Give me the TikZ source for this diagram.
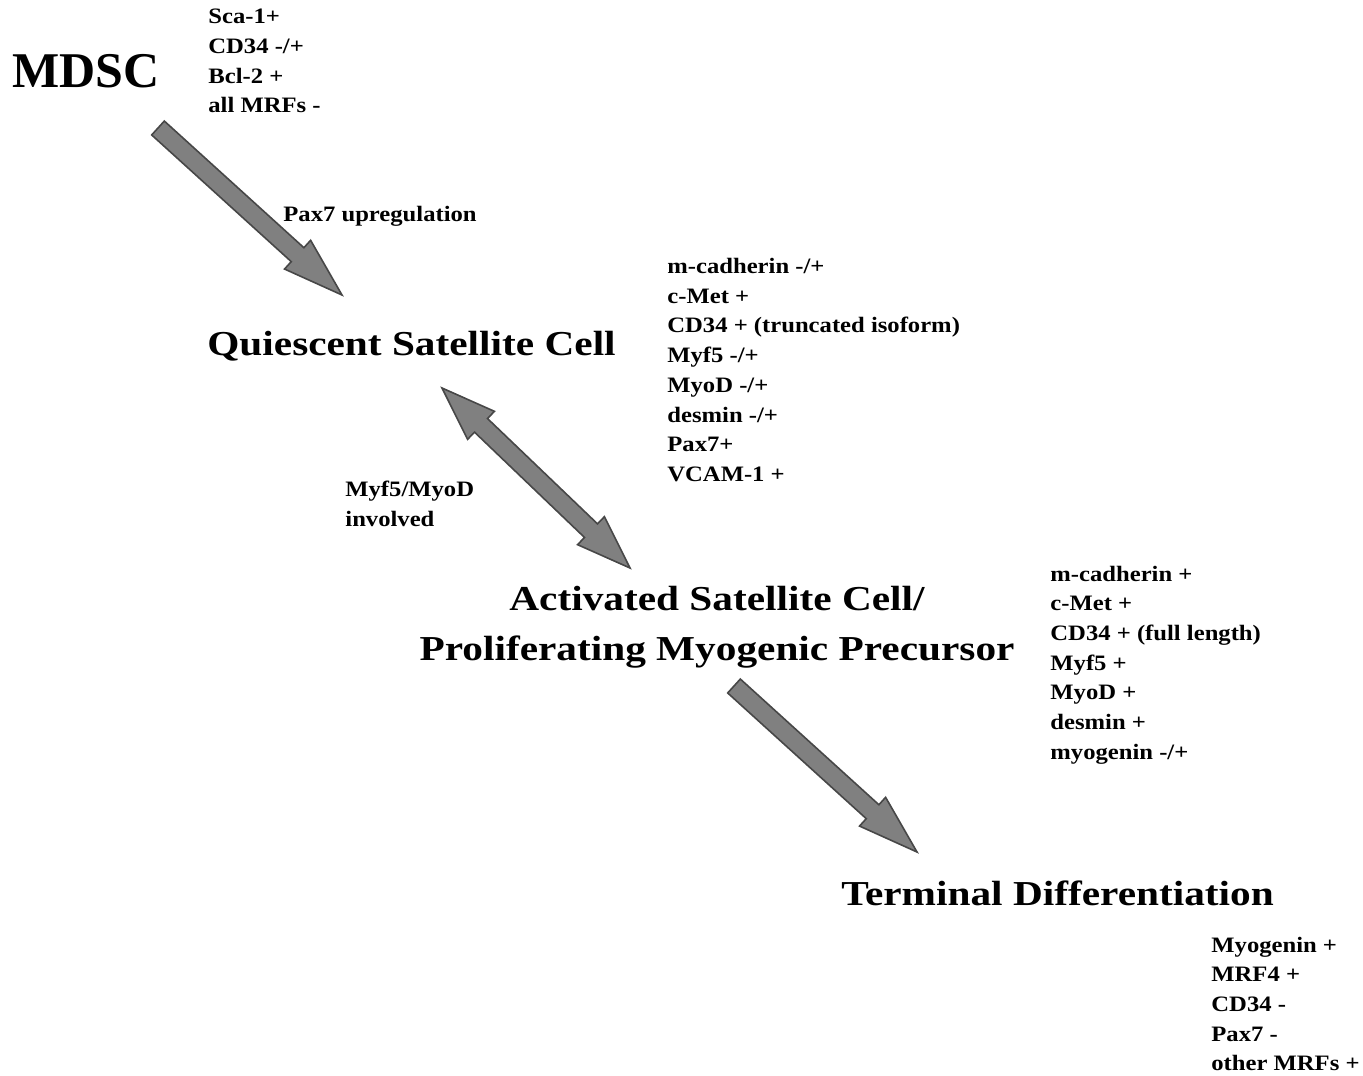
\documentclass[tikz,border=0pt]{standalone}
\usepackage{fontspec}
\setmainfont{Liberation Serif}
\newfontfamily\headfont[FakeStretch=1.18]{Liberation Serif}
\newfontfamily\listfont[FakeStretch=1.12]{Liberation Serif}
\usepackage{tikz}
\usetikzlibrary{calc}
\definecolor{arrowgray}{rgb}{0.50,0.50,0.50}
\definecolor{edgegray}{rgb}{0.28,0.28,0.28}
\newcommand{\fasw}{4.7pt}
\newcommand{\fahw}{9.7pt}
\newcommand{\fahl}{30pt}
\newcommand{\fatarrow}[2]{%
\coordinate (fa-h) at ($(#2)!\fahl!(#1)$);
\draw[fatstyle] ($(#1)!\fasw!90:(#2)$) -- ($(fa-h)!\fasw!90:(#2)$) -- ($(fa-h)!\fahw!90:(#2)$) -- (#2)
  -- ($(fa-h)!\fahw!-90:(#2)$) -- ($(fa-h)!\fasw!-90:(#2)$) -- ($(#1)!\fasw!-90:(#2)$) -- cycle;}
\newcommand{\fatdarrow}[2]{%
\coordinate (fa-h) at ($(#2)!27pt!(#1)$);
\coordinate (fa-t) at ($(#1)!27pt!(#2)$);
\draw[fatstyle] (#1) -- ($(fa-t)!\fahw!90:(#2)$) -- ($(fa-t)!\fasw!90:(#2)$) -- ($(fa-h)!\fasw!90:(#2)$) -- ($(fa-h)!\fahw!90:(#2)$) -- (#2)
  -- ($(fa-h)!\fahw!-90:(#2)$) -- ($(fa-h)!\fasw!-90:(#2)$) -- ($(fa-t)!\fasw!-90:(#2)$) -- ($(fa-t)!\fahw!-90:(#2)$) -- cycle;}

\begin{document}
\begin{tikzpicture}[x=0.5pt,y=-0.5pt,
  title/.style={font=\headfont\fontsize{17.5}{25}\selectfont\bfseries, inner sep=0pt, align=center},
  marker/.style={font=\listfont\fontsize{11}{14.85}\selectfont\bfseries, inner sep=0pt, align=left, anchor=west},
  fatstyle/.style={fill=arrowgray, draw=edgegray, line width=0.8pt, line join=miter}]
\useasboundingbox (0,0) rectangle (1363,1075);
\node[inner sep=0pt, anchor=base west, font=\fontsize{25}{30}\selectfont\bfseries] (mdsc) at (12,88) {MDSC};
\node[marker] (mdscm) at (208,61) {Sca-1+\\CD34 -/+\\Bcl-2 +\\all MRFs -};
\node[marker] (pax) at (283,216) {Pax7 upregulation};
\node[title, anchor=base] (qsc) at (411.5,355) {Quiescent Satellite Cell};
\node[marker] (qscm) at (667,370) {m-cadherin -/+\\c-Met +\\CD34 + (truncated isoform)\\Myf5 -/+\\MyoD -/+\\desmin -/+\\Pax7+\\VCAM-1 +};
\node[marker] (myf) at (345,504) {Myf5/MyoD\\involved};
\node[title] (asc) at (717,627) {Activated Satellite Cell/\\Proliferating Myogenic Precursor};
\node[marker] (ascm) at (1050,665) {m-cadherin +\\c-Met +\\CD34 + (full length)\\Myf5 +\\MyoD +\\desmin +\\myogenin -/+};
\node[title, anchor=base] (td) at (1057.5,905) {Terminal Differentiation};
\node[marker] (tdm) at (1211,1004) {Myogenin +\\MRF4 +\\CD34 -\\Pax7 -\\other MRFs +};
\coordinate (a1s) at (158,128);
\coordinate (a1e) at (342,295);
\coordinate (a2s) at (442,388);
\coordinate (a2e) at (630,568);
\coordinate (a3s) at (734,686);
\coordinate (a3e) at (917,852);
\fatarrow{a1s}{a1e}
\fatdarrow{a2s}{a2e}
\fatarrow{a3s}{a3e}
\end{tikzpicture}
\end{document}
